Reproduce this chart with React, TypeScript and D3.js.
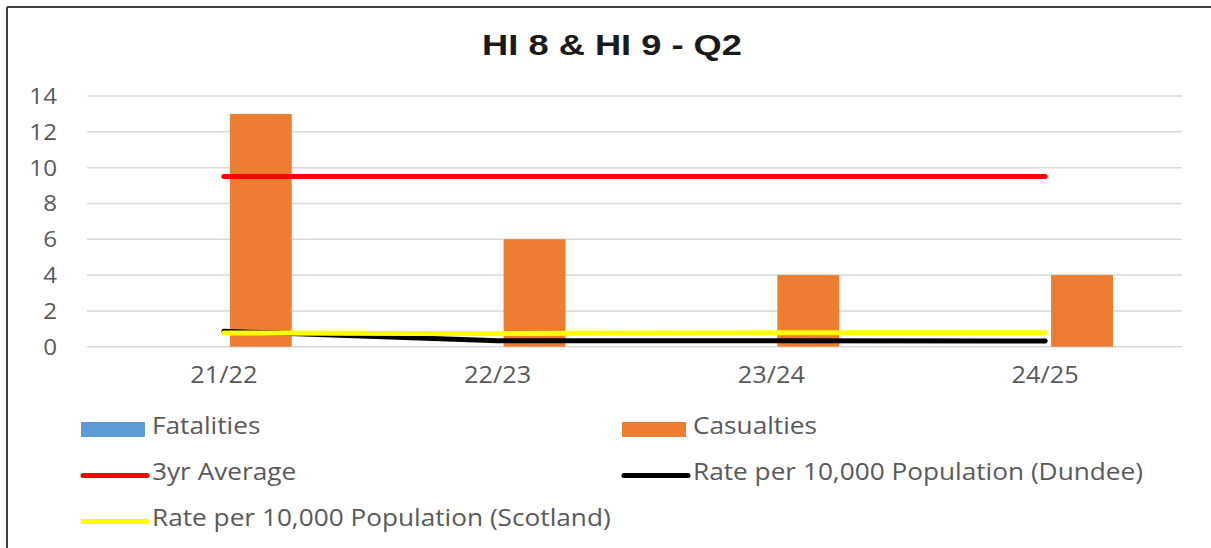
import React from 'react';
import * as d3 from 'd3';

const categories = ['21/22', '22/23', '23/24', '24/25'];
const fatalities = [0, 0, 0, 0];
const casualties = [13, 6, 4, 4];
const threeYrAverage = [9.5, 9.5, 9.5, 9.5];
const rateDundee = [0.86, 0.33, 0.33, 0.32];
const rateScotland = [0.77, 0.73, 0.78, 0.78];
const yTicks = [0, 2, 4, 6, 8, 10, 12, 14];

const barSeries = [
  { name: 'Fatalities', values: fatalities, color: '#5b9bd5' },
  { name: 'Casualties', values: casualties, color: '#ed7d31' },
];
const lineSeries = [
  { name: '3yr Average', values: threeYrAverage, color: '#ff0000' },
  { name: 'Rate per 10,000 Population (Dundee)', values: rateDundee, color: '#000000' },
  { name: 'Rate per 10,000 Population (Scotland)', values: rateScotland, color: '#ffff00' },
];

const W = 1211;
const H = 548;
const font = '"Open Sans", sans-serif';
const textColor = '#595959';
const sx = 1.1; // the source image is stretched sideways
const legendSx = 1.14;

const App = () => {
  const x = d3.scaleBand<string>().domain(categories).range([87, 1182]);
  const bw = x.bandwidth();
  const inner = d3.scaleBand<string>()
    .domain(barSeries.map(s => s.name))
    .range([-0.248 * bw, 0.248 * bw])
    .paddingInner(0.162);
  const y = d3.scaleLinear().domain([0, 14]).range([346.7, 96]);
  const cx = (c: string) => (x(c) as number) + bw / 2;

  const lineGen = d3.line<number>()
    .x((d, i) => cx(categories[i]))
    .y(d => y(d));

  // legend entries in reading order, two columns
  const legendItems = [
    { ...barSeries[0], kind: 'bar' },
    { ...barSeries[1], kind: 'bar' },
    { ...lineSeries[0], kind: 'line' },
    { ...lineSeries[1], kind: 'line' },
    { ...lineSeries[2], kind: 'line' },
  ];

  return (
    <svg width={W} height={H} style={{ position: 'absolute', left: 0, top: 0, background: '#fff' }}>
      <rect x={0} y={0} width={W} height={H} fill="#fff" />
      <line x1={7} y1={7} x2={W} y2={7} stroke="#404040" strokeWidth={2} />
      <line x1={7} y1={7} x2={7} y2={H} stroke="#404040" strokeWidth={2} />

      <text
        transform={`translate(612,55) scale(1.25,1)`}
        textAnchor="middle"
        fontFamily='"Liberation Sans", Arial, sans-serif'
        fontWeight="bold"
        fontSize={29}
        fill="#1a1a1a"
      >
        HI 8 &amp; HI 9 - Q2
      </text>

      <g>
        {yTicks.map(t => (
          <g key={t}>
            <line x1={87} x2={1182} y1={y(t)} y2={y(t)} stroke="#d9d9d9" strokeWidth={1.5} />
            <text
              transform={`translate(57,${y(t) + 8}) scale(${sx},1)`}
              textAnchor="end"
              fontFamily={font}
              fontSize={22}
              fill={textColor}
            >
              {t}
            </text>
          </g>
        ))}
      </g>

      <g>
        {barSeries.map(s =>
          s.values.map((v, i) => {
            const c = categories[i];
            const x0 = cx(c) + (inner(s.name) as number);
            return (
              <rect
                key={s.name + c}
                x={x0}
                y={y(v)}
                width={inner.bandwidth()}
                height={y(0) - y(v)}
                fill={s.color}
              />
            );
          })
        )}
      </g>

      <g>
        {lineSeries.map(s => (
          <path
            key={s.name}
            d={lineGen(s.values) || ''}
            fill="none"
            stroke={s.color}
            strokeWidth={5}
            strokeLinecap="round"
            strokeLinejoin="round"
          />
        ))}
      </g>

      <g>
        {categories.map(c => (
          <text
            key={c}
            transform={`translate(${cx(c)},383) scale(${sx},1)`}
            textAnchor="middle"
            fontFamily={font}
            fontSize={23}
            fill={textColor}
          >
            {c}
          </text>
        ))}
      </g>

      <g>
        {legendItems.map((item, i) => {
          const col = i % 2;
          const row = Math.floor(i / 2);
          const lx = 81 + col * 541;
          const ly = 429.5 + row * 46;
          return (
            <g key={item.name}>
              {item.kind === 'bar' ? (
                <rect x={lx} y={ly - 7.5} width={64} height={15} fill={item.color} />
              ) : (
                <line
                  x1={lx + 2}
                  x2={lx + 66}
                  y1={ly}
                  y2={ly}
                  stroke={item.color}
                  strokeWidth={5}
                  strokeLinecap="round"
                />
              )}
              <text
                transform={`translate(${lx + 71},${ly + 4}) scale(${legendSx},1)`}
                fontFamily={font}
                fontSize={23}
                fill={textColor}
              >
                {item.name}
              </text>
            </g>
          );
        })}
      </g>
    </svg>
  );
};

export default App;
